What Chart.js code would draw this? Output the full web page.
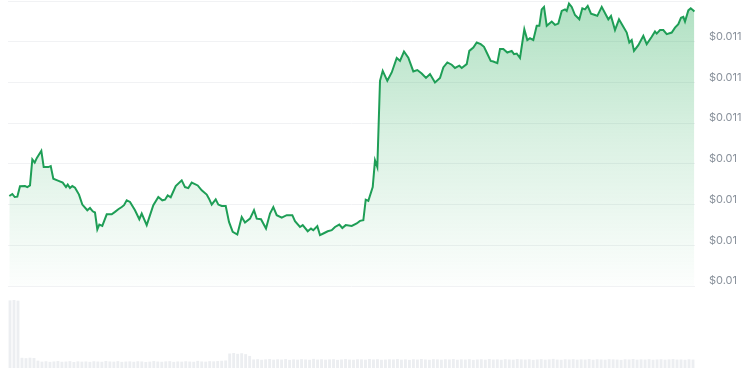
<!DOCTYPE html>
<html>
<head>
<meta charset="utf-8">
<script src="https://cdn.jsdelivr.net/npm/chart.js@4.4.1/dist/chart.umd.min.js"></script>
<style>
  body { margin: 0; background: #fff; }
  #wrap { position: relative; width: 750px; height: 375px; overflow: hidden; }
  #price { position: absolute; left: 0; top: 0; }
  #volume { position: absolute; left: 0; top: 298px; }
</style>
</head>
<body>
<div id="wrap">
  <canvas id="price" width="750" height="288"></canvas>
  <canvas id="volume" width="750" height="72"></canvas>
</div>
<script>
// hours since start of the window
var hours = [
  0.33, 1.08, 1.68, 2.33, 3.0, 4.25, 4.83, 5.5, 6.08, 6.68,
  7.18, 8.33, 8.93, 10.08, 10.68, 11.33, 12.33, 13.68, 14.5, 14.93,
  15.5, 16.08, 16.75, 17.75, 18.58, 19.83, 20.5, 21.18, 21.75, 22.33,
  22.83, 23.58, 24.68, 25.93, 26.75, 27.58, 28.43, 29.0, 29.68, 30.5,
  31.75, 32.83, 33.43, 34.68, 36.33, 37.58, 38.58, 39.25, 39.93, 40.68,
  41.93, 43.43, 44.25, 45.08, 45.93, 47.43, 48.43, 49.68, 50.25, 50.93,
  51.93, 52.58, 53.43, 54.43, 55.25, 56.18, 57.33, 58.43, 59.25, 60.5,
  61.5, 62.18, 63.25, 64.5, 65.5, 66.33, 67.18, 68.43, 69.68, 71.08,
  71.75, 73.0, 73.68, 74.93, 75.75, 76.33, 77.33, 78.0, 78.83, 79.93,
  80.93, 81.75, 82.83, 83.58, 84.43, 85.93, 87.18, 88.0, 88.83, 89.43,
  90.08, 91.18, 91.75, 92.33, 93.0, 93.68, 94.83, 95.93, 97.18, 98.0,
  99.0, 100.08, 101.33, 102.33, 103.43, 104.5, 105.5, 106.75, 108.0, 108.83,
  109.83, 110.93, 111.75, 112.83, 113.43, 114.68, 115.33, 116.33, 117.18, 118.18,
  119.0, 119.68, 120.68, 121.33, 122.33, 123.0, 123.83, 124.83, 125.93, 126.5,
  127.18, 128.0, 129.08, 129.83, 130.5, 131.33, 132.18, 132.83, 133.43, 134.0,
  134.68, 135.93, 136.75, 137.58, 138.43, 139.25, 139.68, 140.25, 140.93, 141.75,
  142.83, 143.58, 144.25, 144.93, 145.75, 146.75, 147.33, 148.43, 149.5, 150.08,
  150.75, 151.75, 152.75, 153.83, 154.68, 155.33, 155.93, 156.5, 157.58, 158.83,
  159.68, 160.93, 161.75, 162.18, 163.0, 163.83, 164.68, 165.93, 166.75, 167.58,
  168.25, 168.83, 169.25, 170.08, 170.68, 171.33, 171.58
];

var prices = [
  0.010242, 0.010252, 0.010237, 0.010239, 0.010290, 0.010291, 0.010286, 0.010294, 0.010422, 0.010406,
  0.010428, 0.010464, 0.010384, 0.010384, 0.010389, 0.010327, 0.010319, 0.010308, 0.010286, 0.010298,
  0.010281, 0.010291, 0.010283, 0.010249, 0.010200, 0.010172, 0.010183, 0.010167, 0.010161, 0.010078,
  0.010102, 0.010095, 0.010152, 0.010152, 0.010164, 0.010177, 0.010188, 0.010197, 0.010221, 0.010213,
  0.010172, 0.010128, 0.010156, 0.010099, 0.010197, 0.010237, 0.010221, 0.010224, 0.010245, 0.010236,
  0.010291, 0.010319, 0.010286, 0.010281, 0.010308, 0.010294, 0.010270, 0.010249, 0.010229, 0.010200,
  0.010226, 0.010200, 0.010193, 0.010193, 0.010115, 0.010066, 0.010053, 0.010139, 0.010112, 0.010131,
  0.010172, 0.010131, 0.010128, 0.010082, 0.010156, 0.010188, 0.010148, 0.010136, 0.010148, 0.010148,
  0.010118, 0.010090, 0.010099, 0.010069, 0.010082, 0.010074, 0.010094, 0.010050, 0.010058, 0.010069,
  0.010074, 0.010090, 0.010102, 0.010085, 0.010099, 0.010095, 0.010107, 0.010120, 0.010123, 0.010224,
  0.010218, 0.010286, 0.010417, 0.010384, 0.010808, 0.010857, 0.010808, 0.010849, 0.010920, 0.010906,
  0.010952, 0.010922, 0.010854, 0.010861, 0.010844, 0.010822, 0.010841, 0.010800, 0.010822, 0.010874,
  0.010898, 0.010887, 0.010871, 0.010882, 0.010871, 0.010890, 0.010955, 0.010971, 0.010996, 0.010988,
  0.010975, 0.010947, 0.010906, 0.010903, 0.010895, 0.010964, 0.010964, 0.010947, 0.010955, 0.010939,
  0.010942, 0.010920, 0.011061, 0.011008, 0.011017, 0.011008, 0.011078, 0.011078, 0.011159, 0.011171,
  0.011078, 0.011099, 0.011083, 0.011089, 0.011151, 0.011159, 0.011151, 0.011187, 0.011171, 0.011131,
  0.011110, 0.011164, 0.011159, 0.011176, 0.011138, 0.011131, 0.011127, 0.011171, 0.011131, 0.011110,
  0.011127, 0.011057, 0.011110, 0.011073, 0.011045, 0.010996, 0.011008, 0.010955, 0.010983, 0.011029,
  0.010988, 0.011024, 0.011050, 0.011040, 0.011057, 0.011057, 0.011037, 0.011045, 0.011069, 0.011086,
  0.011118, 0.011122, 0.011099, 0.011154, 0.011164, 0.011154, 0.011148
];

// hourly volume, one bar per hour
var volumes = [
  68200, 68600, 67900,
  10300, 9900, 10400, 10100, 7400,
  6400, 6800, 6200, 6600, 7000, 6300, 6500, 6900, 6100, 6700,
  6400, 6600, 6200, 6800, 6500, 6300, 7100, 6600, 6400, 6900,
  6200, 6500, 6700, 6300, 6800, 6600, 6100, 6400, 7000, 6500,
  6300, 6700, 6900, 6200, 6600, 6400, 6800, 6500, 6300, 7200,
  6600, 6400, 6900, 6700, 7000, 7300, 7600,
  14600, 15100, 14300, 14900, 14000, 12200,
  8600, 8900, 8300, 8700, 9100, 8400, 8800, 8500, 9000, 8200,
  8700, 8400, 8900, 8600, 8300, 9200, 8500, 8800, 8400, 8700,
  8900, 8200, 8600, 9000, 8500, 8300, 8800, 8700, 8400, 9100,
  8600, 8900, 8300, 8500, 8800, 8600, 9000, 8400, 8700, 8200,
  8800, 8500, 9100, 8600, 8300, 8900, 8700, 8400, 8800, 8600,
  9000, 8300, 8700, 8500, 8900, 8200, 8600, 8800, 8400, 9100,
  8500, 8700, 8300, 8900, 8600, 8400, 9000, 8700, 8500, 8800,
  8200, 8600, 8900, 8400, 8700, 9200, 8500, 8300, 8800, 8600,
  8900, 8400, 8700, 8500, 9000, 8300, 8800, 8600, 8400, 8900,
  8700, 8500, 8200, 8800, 8600, 9100, 8400, 8700, 8500, 8900,
  8300, 8600, 8800, 8400, 8700, 9000, 8500, 8600, 8300, 8800, 8500
];

var priceMin = 0.0098, priceMax = 0.0112, priceStep = 0.0002;

var points = hours.map(function(h, i) { return { x: h, y: prices[i] }; });
var volLabels = volumes.map(function(v, i) { return i; });

var priceCtx = document.getElementById('price').getContext('2d');
var fill = priceCtx.createLinearGradient(0, 0, 0, 286);
fill.addColorStop(0, 'rgba(34, 170, 85, 0.36)');
fill.addColorStop(0.5, 'rgba(34, 170, 85, 0.16)');
fill.addColorStop(1, 'rgba(34, 170, 85, 0.01)');

new Chart(priceCtx, {
  type: 'line',
  data: {
    datasets: [{
      data: points,
      borderColor: '#1e9e56',
      borderWidth: 2,
      backgroundColor: fill,
      fill: 'start',
      pointRadius: 0,
      tension: 0
    }]
  },
  options: {
    responsive: false,
    animation: false,
    layout: { padding: { left: 8, top: 1, bottom: 2, right: 0 } },
    plugins: { legend: { display: false }, tooltip: { enabled: false } },
    scales: {
      x: { type: 'linear', min: 0, max: 171.75, display: false },
      y: {
        position: 'right',
        min: priceMin,
        max: priceMax,
        border: { display: false },
        grid: { color: '#f1f2f4', drawTicks: false },
        afterFit: function(scale) {
          // fixed label column, no extra room above/below the plot
          scale.width = 55;
          scale.paddingTop = 0;
          scale.paddingBottom = 0;
        },
        ticks: {
          stepSize: priceStep,
          padding: 14,
          labelOffset: -5,
          color: '#8a929c',
          font: { family: 'Inter', size: 11 },
          callback: function(v) {
            if (v > priceMax - priceStep / 2) return '';
            return '$' + parseFloat(v.toFixed(3));
          }
        }
      }
    }
  }
});

new Chart(document.getElementById('volume'), {
  type: 'bar',
  data: {
    labels: volLabels,
    datasets: [{
      data: volumes,
      backgroundColor: '#eceef1',
      categoryPercentage: 1,
      barPercentage: 0.72
    }]
  },
  options: {
    responsive: false,
    animation: false,
    layout: { padding: { left: 8, right: 55, top: 2, bottom: 2 } },
    plugins: { legend: { display: false }, tooltip: { enabled: false } },
    scales: {
      x: { display: false },
      y: { display: false, min: 0, max: 68600 }
    }
  }
});
</script>
</body>
</html>
